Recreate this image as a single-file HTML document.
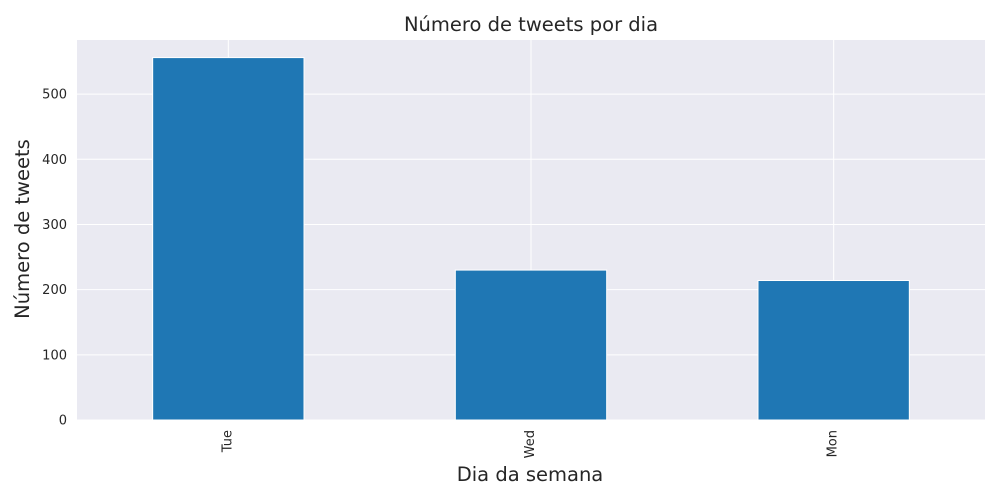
<!DOCTYPE html>
<html><head><meta charset="utf-8">
<style>
html,body{margin:0;padding:0;background:#fff;}
svg{display:block;font-family:"DejaVu Sans","Liberation Sans",sans-serif;}
</style></head>
<body>
<svg id="chart" width="1000" height="500" viewBox="0 0 1000 500">
<rect x="77" y="40" width="908" height="380" fill="#eaeaf2"/>
<g id="grid"></g>
<g id="bars"></g>
<g id="yticks"></g>
<g id="xticks"></g>
<text x="531" y="31" text-anchor="middle" font-size="19.5" fill="#262626">Número de tweets por dia</text>
<text x="530" y="481" text-anchor="middle" font-size="19.5" fill="#262626">Dia da semana</text>
<text transform="translate(29,229) rotate(-90)" text-anchor="middle" font-size="19.5" fill="#262626">Número de tweets</text>
</svg>
<script>
const categories = ["Tue","Wed","Mon"];
const values = [556, 230, 214];
const yTicks = [0,100,200,300,400,500];

const L=77,R=985,T=40,B=420,yMax=583;
const ns="http://www.w3.org/2000/svg";
const step=(R-L)/categories.length;
const xC=i=>L+step*(i+0.5);
const y=v=>B-(v/yMax)*(B-T);
function mk(tag,attrs,parent,text){const e=document.createElementNS(ns,tag);for(const k in attrs)e.setAttribute(k,attrs[k]);if(text!==undefined)e.textContent=text;document.getElementById(parent).appendChild(e);return e;}

yTicks.forEach(t=>{
  const g=mk('line',{x1:L,x2:R,y1:y(t),y2:y(t),stroke:'#fff','stroke-width':1},'grid');
  
  
  const tx=mk('text',{x:L-10,y:y(t)+4.5,'text-anchor':'end','font-size':13,fill:'#262626'},'yticks',String(t));
  
  
});
categories.forEach((c,i)=>{
  const g=mk('line',{x1:xC(i),x2:xC(i),y1:T,y2:B,stroke:'#fff','stroke-width':1},'grid');
  
  
  const w=step*0.5;
  const b=mk('rect',{x:xC(i)-w/2,y:y(values[i]),width:w,height:B-y(values[i]),fill:'#1f77b4',stroke:'#fff','stroke-width':1},'bars');
  
  
  const tx=mk('text',{transform:`translate(${xC(i)+3},${B+10}) rotate(-90)`,'text-anchor':'end','font-size':13,fill:'#262626'},'xticks',c);
  
  
});
</script>
</body></html>
